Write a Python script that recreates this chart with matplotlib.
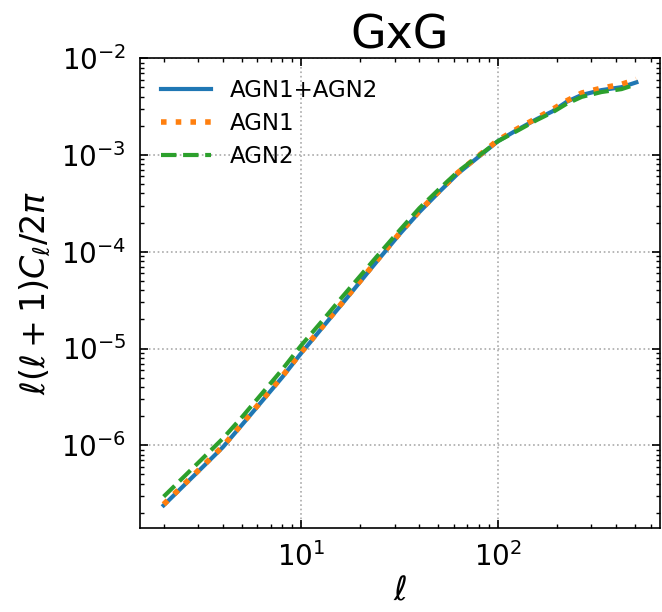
import numpy as np
import matplotlib
matplotlib.use("Agg")
import matplotlib.pyplot as plt

# multipoles
ell = [2, 3, 4, 5, 6, 8, 10, 13, 16, 20, 25, 32, 40, 50, 63, 80, 100,
       126, 158, 190, 225, 268, 338, 427, 508]
# log10 of l(l+1)C_l/2pi
log_agn12 = [-6.62, -6.27, -6.02, -5.79, -5.60, -5.30, -5.05, -4.77, -4.55,
             -4.31, -4.07, -3.81, -3.59, -3.39, -3.19, -3.02, -2.86,
             -2.74, -2.63, -2.55, -2.45, -2.38, -2.33, -2.30, -2.25]
log_agn1 = [-6.61, -6.26, -6.01, -5.78, -5.59, -5.29, -5.04, -4.76, -4.54,
            -4.30, -4.06, -3.80, -3.58, -3.38, -3.18, -3.01, -2.85,
            -2.73, -2.62, -2.53, -2.44, -2.36, -2.31, -2.27, -2.22]
log_agn2 = [-6.53, -6.18, -5.93, -5.71, -5.52, -5.22, -4.97, -4.70, -4.48,
            -4.25, -4.02, -3.77, -3.55, -3.36, -3.17, -3.01, -2.86,
            -2.75, -2.64, -2.56, -2.47, -2.40, -2.35, -2.32, -2.27]

agn12 = 10 ** np.array(log_agn12)
agn1 = 10 ** np.array(log_agn1)
agn2 = 10 ** np.array(log_agn2)

fig = plt.figure(figsize=(6.62, 6.12), dpi=100)
ax = fig.add_axes([0.2115, 0.137, 0.7855, 0.768])

ax.plot(ell, agn12, color='#1f77b4', lw=3, ls='-', label='AGN1+AGN2')
ax.plot(ell, agn1, color='#ff7f0e', lw=4, ls=':', label='AGN1')
ax.plot(ell, agn2, color='#2ca02c', lw=3, ls='--', label='AGN2')

ax.set_xscale('log')
ax.set_yscale('log')
ax.set_ylim(10 ** -6.856, 1e-2)

ax.set_title('GxG', fontsize=33, pad=5)
ax.set_xlabel(r'$\ell$', fontsize=24, labelpad=2)
ax.set_ylabel(r'$\ell(\ell+1)C_\ell/2\pi$', fontsize=24, labelpad=6)

ax.tick_params(which='both', direction='in', top=True, right=True, labelsize=20)
ax.tick_params(which='major', length=6, width=1.2, pad=10)
ax.tick_params(which='minor', length=3, width=1)
ax.grid(True, which='major', ls=':', color='#aaaaaa', lw=1.2)
for s in ax.spines.values():
    s.set_linewidth(1.2)

ax.legend(loc='upper left', frameon=False, fontsize=16.5, handlelength=2.2,
          borderaxespad=0.5, labelspacing=0.45)

fig.savefig('out.png', dpi=100)
